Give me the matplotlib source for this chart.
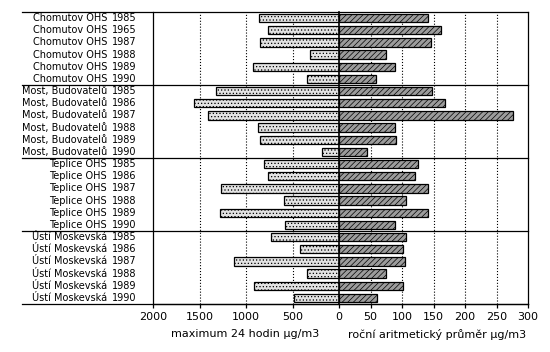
import matplotlib
matplotlib.use("Agg")
import matplotlib.pyplot as plt
from matplotlib import transforms
from matplotlib.lines import Line2D

stations = (["Chomutov OHS"] * 6 + ["Most, Budovatelů"] * 6
            + ["Teplice OHS"] * 6 + ["Ústí Moskevská"] * 6)
years = ["1985", "1965", "1987", "1988", "1989", "1990",
         "1985", "1986", "1987", "1988", "1989", "1990",
         "1985", "1986", "1987", "1988", "1989", "1990",
         "1985", "1986", "1987", "1988", "1989", "1990"]

# maximum 24 hodin (ug/m3)
max24 = [860, 760, 850, 310, 930, 340,
         1320, 1560, 1410, 870, 850, 180,
         810, 760, 1270, 590, 1280, 580,
         730, 420, 1130, 340, 910, 480]
# rocni aritmeticky prumer (ug/m3)
mean_year = [141, 162, 146, 74, 89, 59,
             147, 169, 276, 89, 90, 44,
             126, 121, 142, 106, 142, 89,
             107, 102, 104, 74, 101, 60]

left_ticks = [2000, 1500, 1000, 500, 0]
right_ticks = [50, 100, 150, 200, 250, 300]

plt.rcParams['font.family'] = ['DejaVu Sans']
plt.rcParams['hatch.linewidth'] = 0.5

W, H = 550, 352
fig = plt.figure(figsize=(5.5, 3.52), dpi=100)
x0, xm, x1 = 153, 339, 528
yt, yb = 12, 304
axL = fig.add_axes([x0 / W, (H - yb) / H, (xm - x0) / W, (yb - yt) / H])
axR = fig.add_axes([xm / W, (H - yb) / H, (x1 - xm) / W, (yb - yt) / H])

n = len(years)
ypos = list(range(n))

axL.barh(ypos, max24, height=0.68, color='#e2e2e2', edgecolor='black',
         hatch='.....', linewidth=0.9, zorder=3)
axR.barh(ypos, mean_year, height=0.68, color='#9c9c9c', edgecolor='black',
         hatch='//////', linewidth=0.9, zorder=3)

axL.set_xlim(2000, 0)
axR.set_xlim(0, 300)
for ax in (axL, axR):
    ax.set_ylim(n - 0.5, -0.5)
    ax.set_yticks([])
    ax.tick_params(axis='x', direction='out', length=3, width=0.9,
                   labelsize=8, pad=3)
    for s in ax.spines.values():
        s.set_linewidth(0.9)

axL.set_xticks(left_ticks)
axL.set_xticklabels([str(t) for t in left_ticks])
axR.set_xticks(right_ticks)
axR.set_xticklabels([str(t) for t in right_ticks])
axL.spines['right'].set_visible(False)
axL.spines['top'].set_visible(False)
axR.spines['top'].set_visible(False)
axR.spines['left'].set_linewidth(1.2)

for v in left_ticks[1:-1]:
    axL.axvline(v, color='black', linestyle=':', linewidth=0.8, zorder=1)
for v in right_ticks[:-1]:
    axR.axvline(v, color='black', linestyle=':', linewidth=0.8, zorder=1)

# horizontal rules across labels and plot
tr = transforms.blended_transform_factory(fig.transFigure, axL.transData)
for yy in [-0.5, 5.5, 11.5, 17.5, n - 0.5]:
    fig.add_artist(Line2D([22 / W, x1 / W], [yy, yy], transform=tr,
                          color='black', linewidth=0.9))

for i in range(n):
    fig.text(107 / W, i, stations[i], transform=tr, ha='right', va='center',
             fontsize=7)
    fig.text(112 / W, i, years[i], transform=tr, ha='left', va='center',
             fontsize=7)

fig.text(245 / W, 1 - 334 / H, "maximum 24 hodin µg/m3", ha='center',
         va='center', fontsize=8)
fig.text(437 / W, 1 - 334 / H, "roční aritmetický průměr µg/m3",
         ha='center', va='center', fontsize=8)

fig.savefig("out.png", dpi=100)
